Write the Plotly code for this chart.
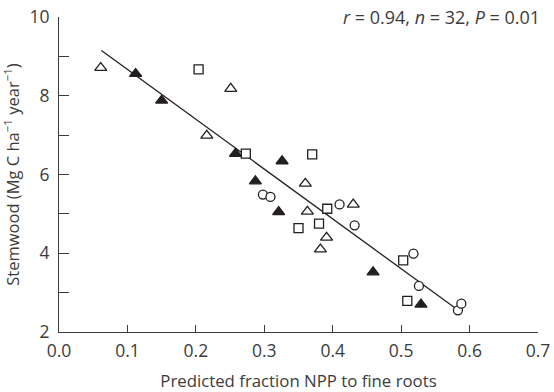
import plotly.graph_objects as go

# Data
open_tri_x = [0.061, 0.251, 0.216, 0.360, 0.363, 0.430, 0.391, 0.382]
open_tri_y = [8.71, 8.18, 6.99, 5.77, 5.06, 5.24, 4.40, 4.10]

filled_tri_x = [0.112, 0.150, 0.258, 0.326, 0.287, 0.321, 0.459, 0.529]
filled_tri_y = [8.56, 7.88, 6.53, 6.34, 5.83, 5.05, 3.52, 2.70]

square_x = [0.204, 0.273, 0.370, 0.392, 0.350, 0.380, 0.503, 0.509]
square_y = [8.67, 6.53, 6.51, 5.13, 4.64, 4.75, 3.82, 2.79]

circle_x = [0.298, 0.309, 0.410, 0.432, 0.518, 0.526, 0.583, 0.588]
circle_y = [5.49, 5.43, 5.24, 4.71, 3.99, 3.17, 2.55, 2.72]

fit_x = [0.062, 0.578]
fit_y = [9.15, 2.62]

x_ticks = [0.0, 0.1, 0.2, 0.3, 0.4, 0.5, 0.6, 0.7]
x_ticklabels = ["0.0", "0.1", "0.2", "0.3", "0.4", "0.5", "0.6", "0.7"]
y_ticks = [2, 4, 6, 8, 10]
y_ticklabels = ["2", "4", "6", "8", "10"]

INK = "#231f20"
TXT = "#3c3c3c"
FONT = "Open Sans"

fig = go.Figure()

fig.add_trace(go.Scatter(x=fit_x, y=fit_y, mode="lines",
                         line=dict(color=INK, width=1.3), showlegend=False))

def add_markers(xs, ys, symbol, filled, size):
    fig.add_trace(go.Scatter(
        x=xs, y=ys, mode="markers", showlegend=False,
        marker=dict(symbol=symbol, size=size,
                    color=INK if filled else "white",
                    line=dict(color=INK, width=1.3))))

add_markers(square_x, square_y, "square", False, 9)
add_markers(circle_x, circle_y, "circle", False, 9)
add_markers(open_tri_x, open_tri_y, "triangle-up", False, 10.5)
add_markers(filled_tri_x, filled_tri_y, "triangle-up", True, 10.5)

fig.update_layout(
    width=554, height=392,
    margin=dict(l=59, r=15.5, t=16.5, b=60.3),
    paper_bgcolor="white", plot_bgcolor="white",
    font=dict(family=FONT, size=17, color=TXT),
    xaxis=dict(range=[0, 0.7], tickvals=x_ticks, ticktext=x_ticklabels,
               ticks="inside", ticklen=7, tickwidth=1, tickcolor=TXT,
               showline=True, linecolor=TXT, linewidth=1.2,
               showgrid=False, zeroline=False, ticklabelstandoff=3,
               automargin=False,
               tickfont=dict(size=17.5, color=TXT),
               title=dict(text="Predicted fraction NPP to fine roots",
                          font=dict(size=16.8, color=TXT), standoff=16)),
    yaxis=dict(range=[2, 10], tickvals=y_ticks, ticktext=y_ticklabels,
               ticks="inside", ticklen=10, tickwidth=1, tickcolor=TXT,
               minor=dict(dtick=1, tick0=2, ticks="inside", ticklen=10,
                          tickwidth=1, tickcolor=TXT, showgrid=False),
               showline=True, linecolor=TXT, linewidth=1.2,
               showgrid=False, zeroline=False, ticklabelstandoff=5,
               automargin=False,
               tickfont=dict(size=17.5, color=TXT),
               title=dict(text="Stemwood (Mg C ha<sup>\u22121</sup> year<sup>\u22121</sup>)",
                          font=dict(size=16.5, color=TXT), standoff=6)),
    annotations=[dict(
        text="<i>r</i> = 0.94, <i>n</i> = 32, <i>P</i> = 0.01",
        xref="paper", yref="paper", x=1.008, y=1.0,
        xanchor="right", yanchor="middle", showarrow=False,
        font=dict(size=18, color=TXT))],
)

fig.write_html("out.html")
